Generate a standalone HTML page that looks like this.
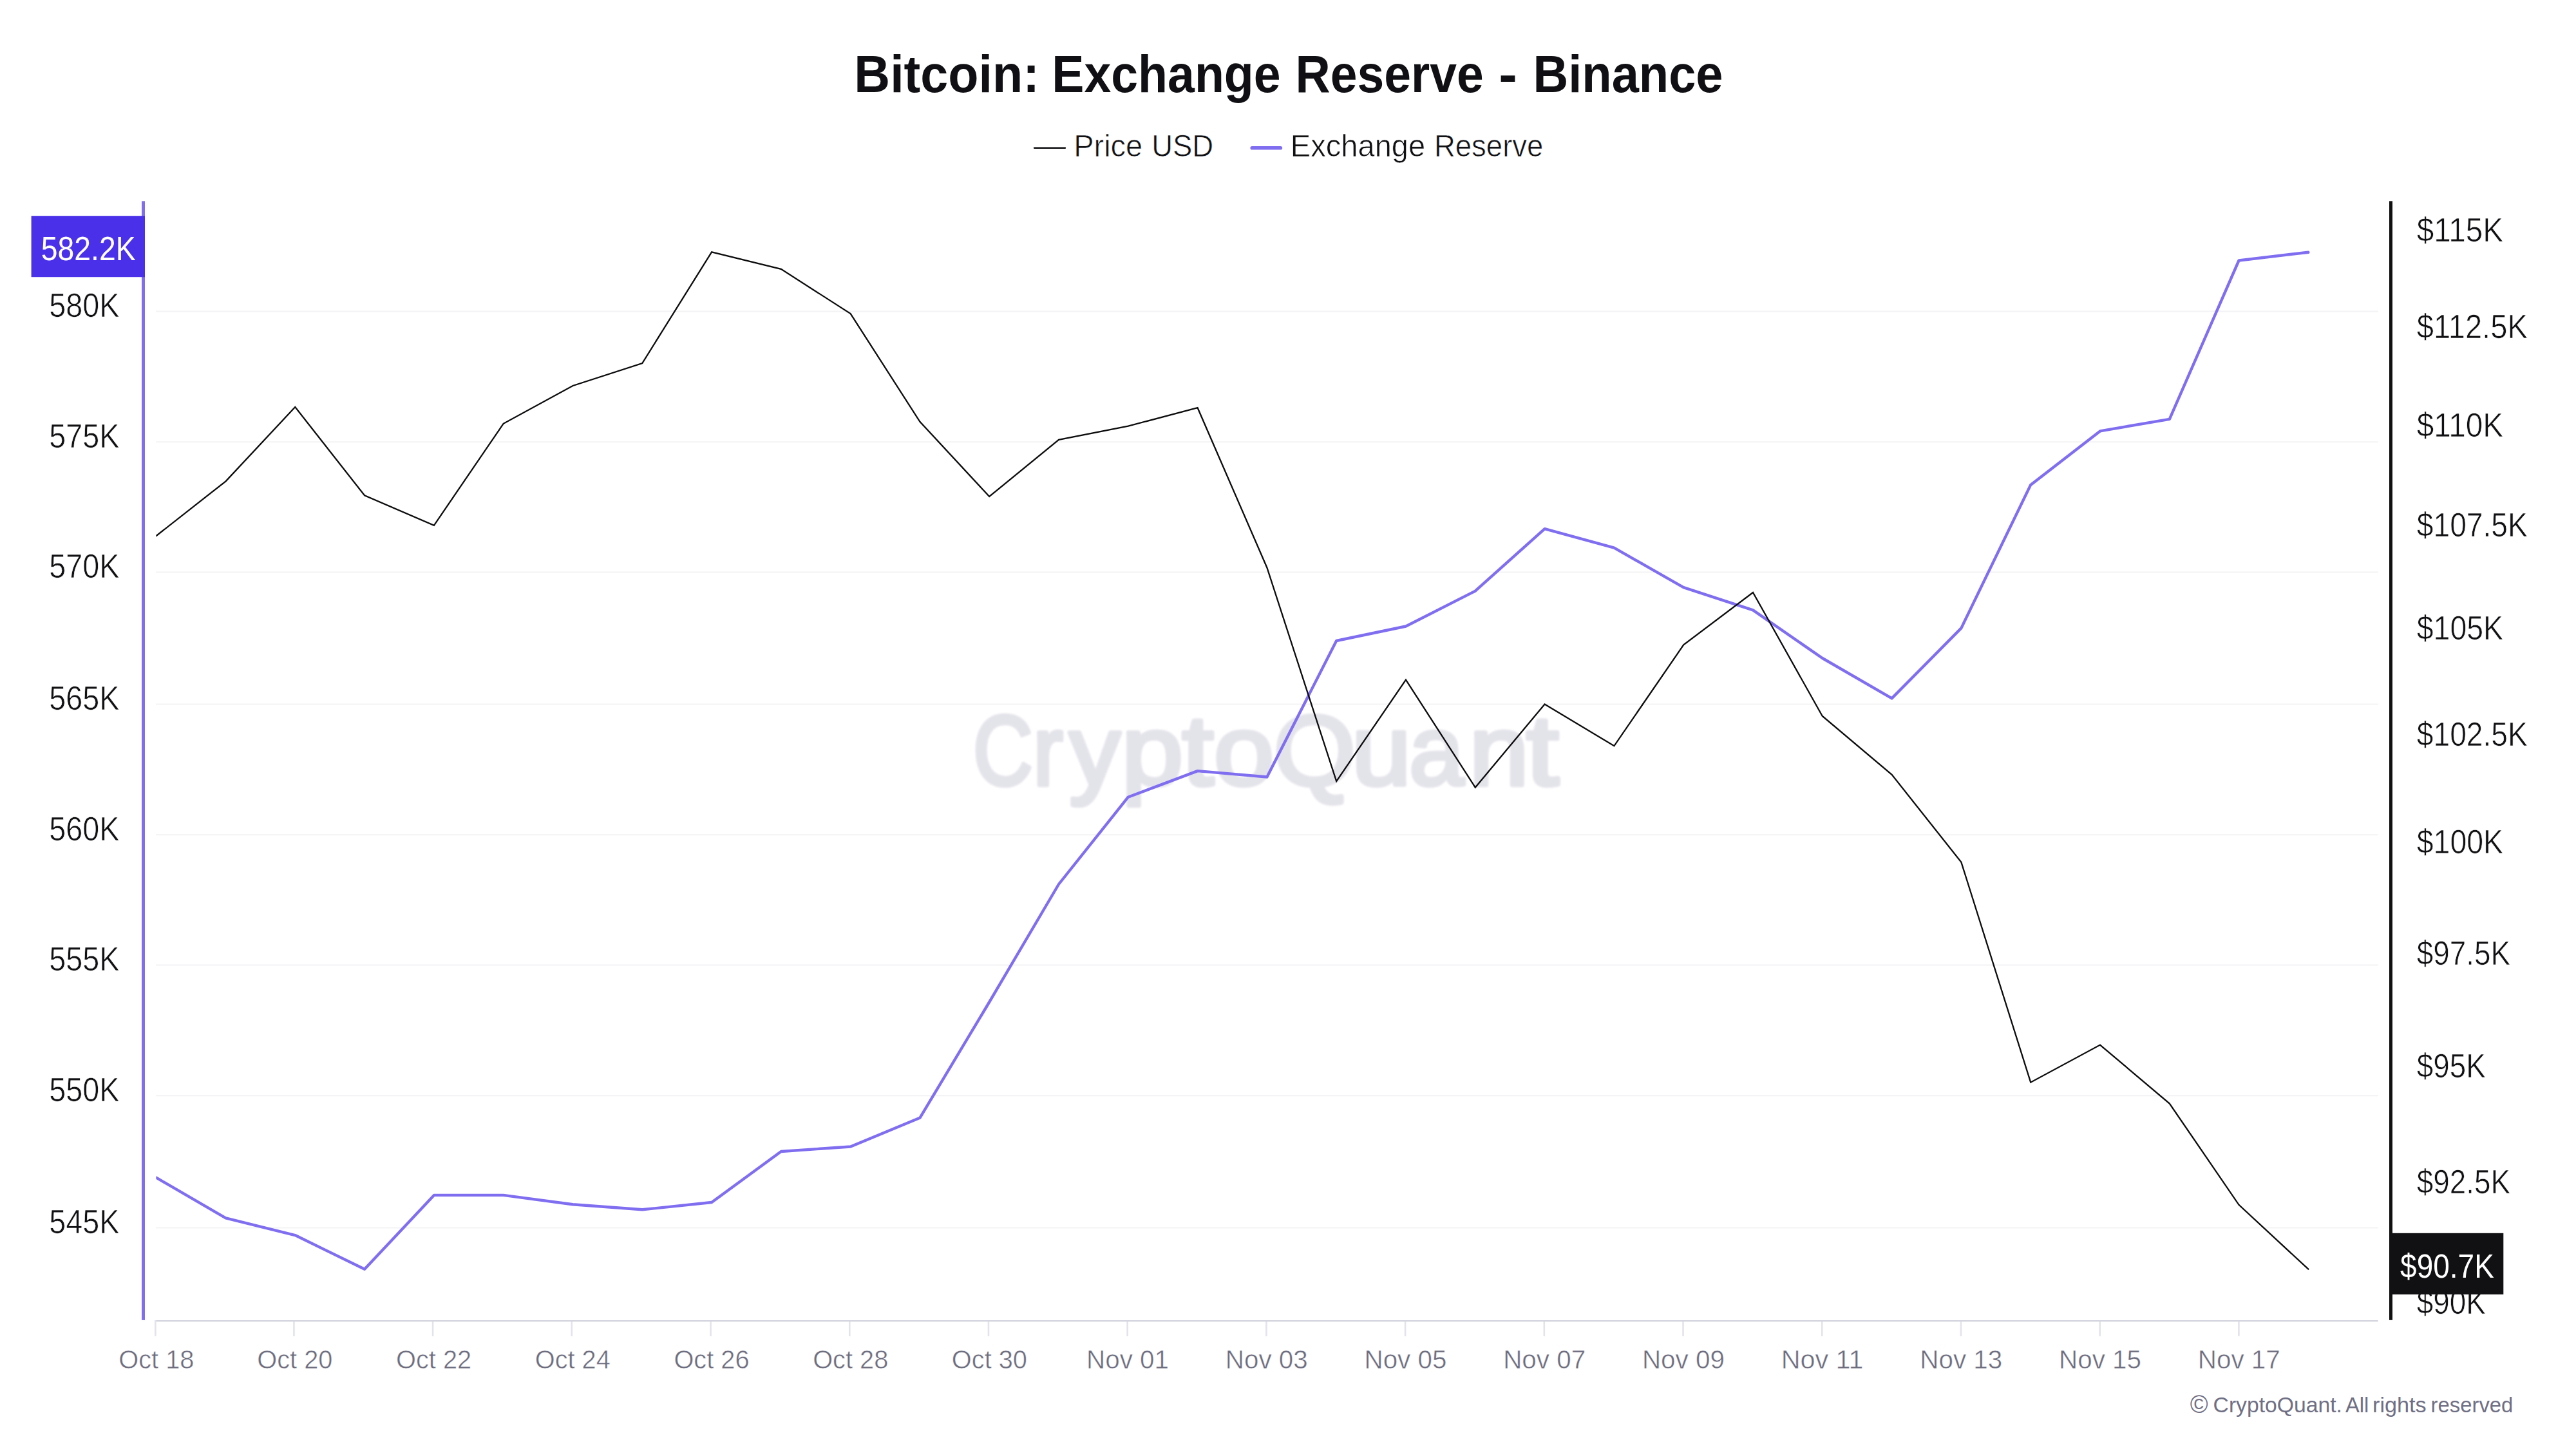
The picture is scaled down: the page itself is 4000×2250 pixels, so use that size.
<!DOCTYPE html>
<html lang="en">
<head>
<meta charset="utf-8">
<title>Bitcoin: Exchange Reserve - Binance</title>
<style>
html,body{margin:0;padding:0;background:#ffffff;}
body{width:4000px;height:2250px;overflow:hidden;}
svg{display:block;font-family:"Liberation Sans", sans-serif;}
text{white-space:pre;}
</style>
</head>
<body>
<svg width="4000" height="2250" viewBox="0 0 4000 2250">
<defs>
<filter id="wm" x="-5%" y="-20%" width="110%" height="140%"><feGaussianBlur stdDeviation="1.7"/></filter>
<clipPath id="plot"><rect x="242.3" y="300" width="3450" height="1750"/></clipPath>
</defs>
<rect x="0" y="0" width="4000" height="2250" fill="#ffffff"/>
<text y="142.6" font-size="81.5" font-weight="bold" fill="#101014"><tspan x="1326.33" textLength="287.6" lengthAdjust="spacingAndGlyphs">Bitcoin:</tspan><tspan x="1632.27" textLength="1" lengthAdjust="spacingAndGlyphs"> </tspan><tspan x="1633.27" textLength="355.4" lengthAdjust="spacingAndGlyphs">Exchange</tspan><tspan x="2010.58" textLength="1" lengthAdjust="spacingAndGlyphs"> </tspan><tspan x="2011.58" textLength="292.19" lengthAdjust="spacingAndGlyphs">Reserve</tspan><tspan x="2326.35" textLength="1" lengthAdjust="spacingAndGlyphs"> </tspan><tspan x="2327.35" textLength="28.59" lengthAdjust="spacingAndGlyphs">-</tspan><tspan x="2379.53" textLength="1" lengthAdjust="spacingAndGlyphs"> </tspan><tspan x="2380.53" textLength="294.96" lengthAdjust="spacingAndGlyphs">Binance</tspan></text>
<line x1="1606.1" y1="229.8" x2="1653.9" y2="229.8" stroke="#111114" stroke-width="2.4" stroke-linecap="round"/>
<text y="243" font-size="49" fill="#111114" stroke="#ffffff" stroke-width="0.7"><tspan x="1667.3" textLength="106.83" lengthAdjust="spacingAndGlyphs">Price</tspan><tspan x="1787.14" textLength="1" lengthAdjust="spacingAndGlyphs"> </tspan><tspan x="1788.14" textLength="96.09" lengthAdjust="spacingAndGlyphs">USD</tspan></text>
<line x1="1944.2" y1="229.8" x2="1988.4" y2="229.8" stroke="#806ef0" stroke-width="5.6" stroke-linecap="round"/>
<text y="243" font-size="49" fill="#111114" stroke="#ffffff" stroke-width="0.7"><tspan x="2003.79" textLength="209.46" lengthAdjust="spacingAndGlyphs">Exchange</tspan><tspan x="2225.92" textLength="1" lengthAdjust="spacingAndGlyphs"> </tspan><tspan x="2226.92" textLength="169.46" lengthAdjust="spacingAndGlyphs">Reserve</tspan></text>
<g stroke="#f3f3f5" stroke-width="2">
<line x1="242.3" y1="483.6" x2="3692.6" y2="483.6"/>
<line x1="242.3" y1="686.3" x2="3692.6" y2="686.3"/>
<line x1="242.3" y1="888.5" x2="3692.6" y2="888.5"/>
<line x1="242.3" y1="1093.5" x2="3692.6" y2="1093.5"/>
<line x1="242.3" y1="1296.3" x2="3692.6" y2="1296.3"/>
<line x1="242.3" y1="1498.5" x2="3692.6" y2="1498.5"/>
<line x1="242.3" y1="1701.3" x2="3692.6" y2="1701.3"/>
<line x1="242.3" y1="1906.4" x2="3692.6" y2="1906.4"/>
</g>
<g filter="url(#wm)"><text y="1218.5" font-size="154" fill="#e3e3ea" stroke="#e3e3ea" stroke-width="6.5" stroke-linejoin="round"><tspan x="1510.9" textLength="92.7" lengthAdjust="spacingAndGlyphs">C</tspan><tspan x="1604.0" textLength="46.6" lengthAdjust="spacingAndGlyphs">r</tspan><tspan x="1660.4" textLength="79.0" lengthAdjust="spacingAndGlyphs">y</tspan><tspan x="1741.6" textLength="95.6" lengthAdjust="spacingAndGlyphs">p</tspan><tspan x="1835.8" textLength="48.8" lengthAdjust="spacingAndGlyphs">t</tspan><tspan x="1884.9" textLength="93.3" lengthAdjust="spacingAndGlyphs">o</tspan><tspan x="1977.8" textLength="127.2" lengthAdjust="spacingAndGlyphs">Q</tspan><tspan x="2098.8" textLength="92.6" lengthAdjust="spacingAndGlyphs">u</tspan><tspan x="2188.2" textLength="84.9" lengthAdjust="spacingAndGlyphs">a</tspan><tspan x="2281.4" textLength="92.4" lengthAdjust="spacingAndGlyphs">n</tspan><tspan x="2369.9" textLength="50.4" lengthAdjust="spacingAndGlyphs">t</tspan></text></g>
<line x1="240" y1="2051.1" x2="3692.6" y2="2051.1" stroke="#d3d3df" stroke-width="2.3"/>
<g stroke="#e3e3eb" stroke-width="2.6">
<line x1="241.35" y1="2050" x2="241.35" y2="2074.8"/>
<line x1="456.4" y1="2052" x2="456.4" y2="2074.8"/>
<line x1="672.11" y1="2052" x2="672.11" y2="2074.8"/>
<line x1="887.83" y1="2052" x2="887.83" y2="2074.8"/>
<line x1="1103.54" y1="2052" x2="1103.54" y2="2074.8"/>
<line x1="1319.26" y1="2052" x2="1319.26" y2="2074.8"/>
<line x1="1534.97" y1="2052" x2="1534.97" y2="2074.8"/>
<line x1="1750.68" y1="2052" x2="1750.68" y2="2074.8"/>
<line x1="1966.4" y1="2052" x2="1966.4" y2="2074.8"/>
<line x1="2182.11" y1="2052" x2="2182.11" y2="2074.8"/>
<line x1="2397.83" y1="2052" x2="2397.83" y2="2074.8"/>
<line x1="2613.54" y1="2052" x2="2613.54" y2="2074.8"/>
<line x1="2829.25" y1="2052" x2="2829.25" y2="2074.8"/>
<line x1="3044.97" y1="2052" x2="3044.97" y2="2074.8"/>
<line x1="3260.68" y1="2052" x2="3260.68" y2="2074.8"/>
<line x1="3476.4" y1="2052" x2="3476.4" y2="2074.8"/>
</g>
<g font-size="40" fill="#6d6d7e" stroke="#ffffff" stroke-width="0.5">
<text x="184.25" y="2125" textLength="117.1" lengthAdjust="spacingAndGlyphs">Oct 18</text>
<text x="399.3" y="2125" textLength="117.1" lengthAdjust="spacingAndGlyphs">Oct 20</text>
<text x="615.01" y="2125" textLength="117.1" lengthAdjust="spacingAndGlyphs">Oct 22</text>
<text x="830.73" y="2125" textLength="117.1" lengthAdjust="spacingAndGlyphs">Oct 24</text>
<text x="1046.44" y="2125" textLength="117.1" lengthAdjust="spacingAndGlyphs">Oct 26</text>
<text x="1262.16" y="2125" textLength="117.1" lengthAdjust="spacingAndGlyphs">Oct 28</text>
<text x="1477.87" y="2125" textLength="117.1" lengthAdjust="spacingAndGlyphs">Oct 30</text>
<text x="1687.08" y="2125" textLength="127.9" lengthAdjust="spacingAndGlyphs">Nov 01</text>
<text x="1902.8" y="2125" textLength="127.9" lengthAdjust="spacingAndGlyphs">Nov 03</text>
<text x="2118.51" y="2125" textLength="127.9" lengthAdjust="spacingAndGlyphs">Nov 05</text>
<text x="2334.23" y="2125" textLength="127.9" lengthAdjust="spacingAndGlyphs">Nov 07</text>
<text x="2549.94" y="2125" textLength="127.9" lengthAdjust="spacingAndGlyphs">Nov 09</text>
<text x="2765.65" y="2125" textLength="127.9" lengthAdjust="spacingAndGlyphs">Nov 11</text>
<text x="2981.37" y="2125" textLength="127.9" lengthAdjust="spacingAndGlyphs">Nov 13</text>
<text x="3197.08" y="2125" textLength="127.9" lengthAdjust="spacingAndGlyphs">Nov 15</text>
<text x="3412.8" y="2125" textLength="127.9" lengthAdjust="spacingAndGlyphs">Nov 17</text>
</g>
<rect x="220" y="312.3" width="5" height="1737.6" fill="#806ef0"/>
<g font-size="51" fill="#111114" stroke="#ffffff" stroke-width="0.7">
<text x="76.28" y="492.1" textLength="109.2" lengthAdjust="spacingAndGlyphs">580K</text>
<text x="76.28" y="694.8" textLength="109.2" lengthAdjust="spacingAndGlyphs">575K</text>
<text x="76.28" y="897.0" textLength="109.2" lengthAdjust="spacingAndGlyphs">570K</text>
<text x="76.28" y="1102.0" textLength="109.2" lengthAdjust="spacingAndGlyphs">565K</text>
<text x="76.28" y="1304.8" textLength="109.2" lengthAdjust="spacingAndGlyphs">560K</text>
<text x="76.28" y="1507.0" textLength="109.2" lengthAdjust="spacingAndGlyphs">555K</text>
<text x="76.28" y="1709.8" textLength="109.2" lengthAdjust="spacingAndGlyphs">550K</text>
<text x="76.28" y="1914.9" textLength="109.2" lengthAdjust="spacingAndGlyphs">545K</text>
</g>
<rect x="48.6" y="335.2" width="176.4" height="95" fill="#4a30e8"/>
<text x="63.75" y="404.1" font-size="52" fill="#ffffff" textLength="146.77" lengthAdjust="spacingAndGlyphs">582.2K</text>
<rect x="3710" y="312.3" width="5" height="1737.5" fill="#111114"/>
<g font-size="51" fill="#111114" stroke="#ffffff" stroke-width="0.7">
<text x="3752.75" y="375.2" textLength="134.32" lengthAdjust="spacingAndGlyphs">$115K</text>
<text x="3752.75" y="525.3" textLength="172.12" lengthAdjust="spacingAndGlyphs">$112.5K</text>
<text x="3752.75" y="678.1" textLength="134.32" lengthAdjust="spacingAndGlyphs">$110K</text>
<text x="3752.75" y="833.2" textLength="172.12" lengthAdjust="spacingAndGlyphs">$107.5K</text>
<text x="3752.75" y="993.3" textLength="134.32" lengthAdjust="spacingAndGlyphs">$105K</text>
<text x="3752.75" y="1158" textLength="172.12" lengthAdjust="spacingAndGlyphs">$102.5K</text>
<text x="3752.75" y="1325.2" textLength="134.32" lengthAdjust="spacingAndGlyphs">$100K</text>
<text x="3752.76" y="1498.3" textLength="145.21" lengthAdjust="spacingAndGlyphs">$97.5K</text>
<text x="3752.76" y="1673.2" textLength="106.91" lengthAdjust="spacingAndGlyphs">$95K</text>
<text x="3752.76" y="1853" textLength="145.21" lengthAdjust="spacingAndGlyphs">$92.5K</text>
<text x="3752.76" y="2039.9" textLength="106.91" lengthAdjust="spacingAndGlyphs">$90K</text>
</g>
<rect x="3710" y="1914.8" width="177.3" height="95.2" fill="#111114"/>
<text x="3727.11" y="1983.9" font-size="52" fill="#ffffff" textLength="145.71" lengthAdjust="spacingAndGlyphs">$90.7K</text>
<g clip-path="url(#plot)" fill="none">
<polyline points="242.7,1828.7 350.5,1891.3 458.3,1918.1 566.1,1970.7 673.9,1855.9 781.7,1855.9 889.5,1870.3 997.3,1878.3 1105.1,1867 1212.9,1788 1320.7,1780.5 1428.4,1735.8 1536.2,1556 1644.0,1373 1751.8,1237.7 1859.6,1197.1 1967.4,1206.5 2075.2,995 2183.0,972.5 2290.8,917.7 2398.6,821.1 2506.4,850.6 2614.2,912.1 2722.0,947.4 2829.8,1022 2937.6,1084.4 3045.4,975.4 3153.2,752.9 3261.0,669.4 3368.8,650.8 3476.5,404.5 3584.3,391.7" stroke="#806ef0" stroke-width="4.4" stroke-linejoin="round" stroke-linecap="round"/>
<polyline points="242.7,832 350.5,747.3 458.3,632 566.1,769.3 673.9,815.8 781.7,657.8 889.5,599 997.3,564 1105.1,391.3 1212.9,417.8 1320.7,487.1 1428.4,654.8 1536.2,771 1644.0,682.8 1751.8,661.6 1859.6,633.2 1967.4,881.5 2075.2,1213.2 2183.0,1055.6 2290.8,1222.7 2398.6,1093.5 2506.4,1158.3 2614.2,1001.4 2722.0,920 2829.8,1112 2937.6,1202.8 3045.4,1338.8 3153.2,1680.7 3261.0,1622.6 3368.8,1713.5 3476.5,1870.8 3584.3,1970.7" stroke="#0c0c0e" stroke-width="2.3" stroke-linejoin="miter" stroke-linecap="round"/>
</g>
<text font-size="33" fill="#6f6f84"><tspan x="3400.73" y="2193.8" font-size="38" textLength="27.86" lengthAdjust="spacingAndGlyphs">©</tspan><tspan x="3435.59" y="2192.6" textLength="1" lengthAdjust="spacingAndGlyphs"> </tspan><tspan x="3436.59" y="2192.6" textLength="200.29" lengthAdjust="spacingAndGlyphs">CryptoQuant.</tspan><tspan x="3640.94" y="2192.6" textLength="1" lengthAdjust="spacingAndGlyphs"> </tspan><tspan x="3641.94" y="2192.6" textLength="36.25" lengthAdjust="spacingAndGlyphs">All</tspan><tspan x="3683.03" y="2192.6" textLength="1" lengthAdjust="spacingAndGlyphs"> </tspan><tspan x="3684.03" y="2192.6" textLength="83.71" lengthAdjust="spacingAndGlyphs">rights</tspan><tspan x="3773.62" y="2192.6" textLength="1" lengthAdjust="spacingAndGlyphs"> </tspan><tspan x="3774.62" y="2192.6" textLength="127.69" lengthAdjust="spacingAndGlyphs">reserved</tspan></text>
</svg>
</body>
</html>
